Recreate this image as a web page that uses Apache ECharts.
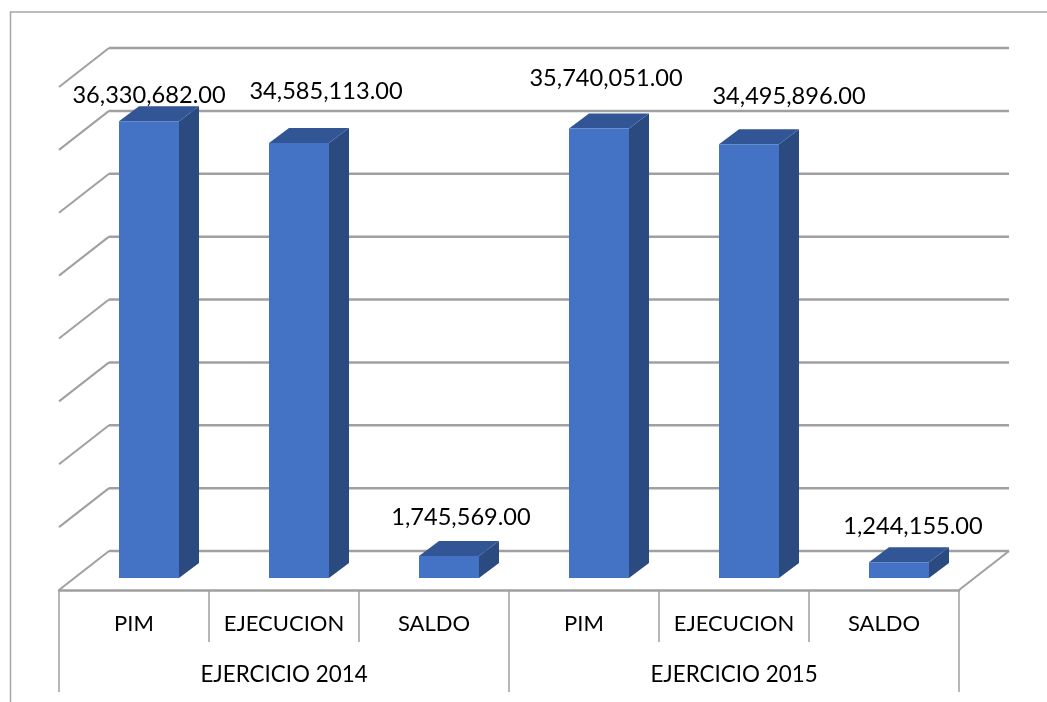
<!DOCTYPE html>
<html><head><meta charset="utf-8">
<style>html,body{margin:0;padding:0;background:#fff}#c{width:1047px;height:702px}</style>
<script src="https://cdn.jsdelivr.net/npm/echarts@6/dist/echarts.min.js"></script>
</head><body><div id="c"></div>
<script>
const categories = ['PIM','EJECUCION','SALDO','PIM','EJECUCION','SALDO'];
const groups = ['EJERCICIO 2014','EJERCICIO 2015'];
const values = [36330682,34585113,1745569,35740051,34495896,1244155];
const gridTicks = [0,5000000,10000000,15000000,20000000,25000000,30000000,35000000,40000000];
const labelNudge = [[0,-26],[27,-52],[12,-39],[7,-50],[40,-48],[14,-36]];

const FONT='Lato', GREY='#A0A0A0';
const WALL=[50,-39], BARPLANE=[15,-12], BARD=[20,-15], BARW=60;
const chart=echarts.init(document.getElementById('c'),null,{renderer:'canvas'});
function fmt(v){return v.toLocaleString('en-US',{minimumFractionDigits:2,maximumFractionDigits:2});}
chart.setOption({
  backgroundColor:'#fff',animation:false,
  graphic:[{type:'polyline',z:0,shape:{points:[[10.5,702],[10.5,12],[1047,12]]},style:{stroke:'#A6A6A6',lineWidth:1.5,fill:null}}],
  grid:{left:59,width:900,top:87,height:503},
  xAxis:[
    {type:'category',data:categories,position:'bottom',
      axisLine:{lineStyle:{color:GREY,width:2.5}},axisTick:{show:true,length:52,lineStyle:{color:GREY,width:1.5}},
      axisLabel:{fontFamily:FONT,fontSize:22,color:'#000',margin:23,interval:0}},
    {type:'category',data:groups,position:'bottom',
      axisLine:{show:false},axisTick:{show:true,length:102,lineStyle:{color:GREY,width:1.5}},
      axisLabel:{fontFamily:FONT,fontSize:22.4,color:'#000',margin:74,interval:0}}
  ],
  yAxis:{type:'value',min:0,max:40000000,interval:5000000,show:false,splitLine:{show:false}},
  series:[
    {type:'custom',z:1,data:gridTicks.map(v=>[0,v]),encode:{x:0,y:1},renderItem(p,api){
      const c=api.coord([0,api.value(1)]),w=api.size([1,0])[0],x=c[0]-w/2,y=c[1];
      const xb=x+WALL[0],yb=y+WALL[1],xe=xb+900;
      const ch=[
        {type:'line',shape:{x1:x,y1:y,x2:xb,y2:yb},style:{stroke:GREY,lineWidth:2}},
        {type:'line',shape:{x1:xb,y1:yb,x2:xe,y2:yb},style:{stroke:GREY,lineWidth:2.5}}
      ];
      if(api.value(1)===0)ch.push({type:'line',shape:{x1:xe-WALL[0],y1:y,x2:xe,y2:yb},style:{stroke:GREY,lineWidth:2}});
      return {type:'group',children:ch};
    }},
    {type:'custom',z:2,data:values.map((v,i)=>[i,v]),encode:{x:0,y:1},renderItem(p,api){
      const i=api.value(0),v=api.value(1);
      const t=api.coord([i,v]),b=api.coord([i,0]);
      const x0=t[0]+BARPLANE[0]-BARW/2,x1=x0+BARW,yt=t[1]+BARPLANE[1],yb=b[1]+BARPLANE[1],dx=BARD[0],dy=BARD[1];
      return {type:'group',children:[
        {type:'polygon',shape:{points:[[x1,yt],[x1+dx,yt+dy],[x1+dx,yb+dy],[x1,yb]]},style:{fill:'#2B4A80'}},
        {type:'polygon',shape:{points:[[x0,yt],[x0+dx,yt+dy],[x1+dx,yt+dy],[x1,yt]]},style:{fill:'#325695'}},
        {type:'rect',shape:{x:x0,y:yt,width:BARW,height:yb-yt},style:{fill:'#4472C4'}},
        {type:'text',style:{x:(x0+x1)/2+labelNudge[i][0],y:yt+labelNudge[i][1],text:fmt(v),align:'center',verticalAlign:'middle',font:'23.6px '+FONT,fill:'#000'}}
      ]};
    }}
  ]
});
</script></body></html>
